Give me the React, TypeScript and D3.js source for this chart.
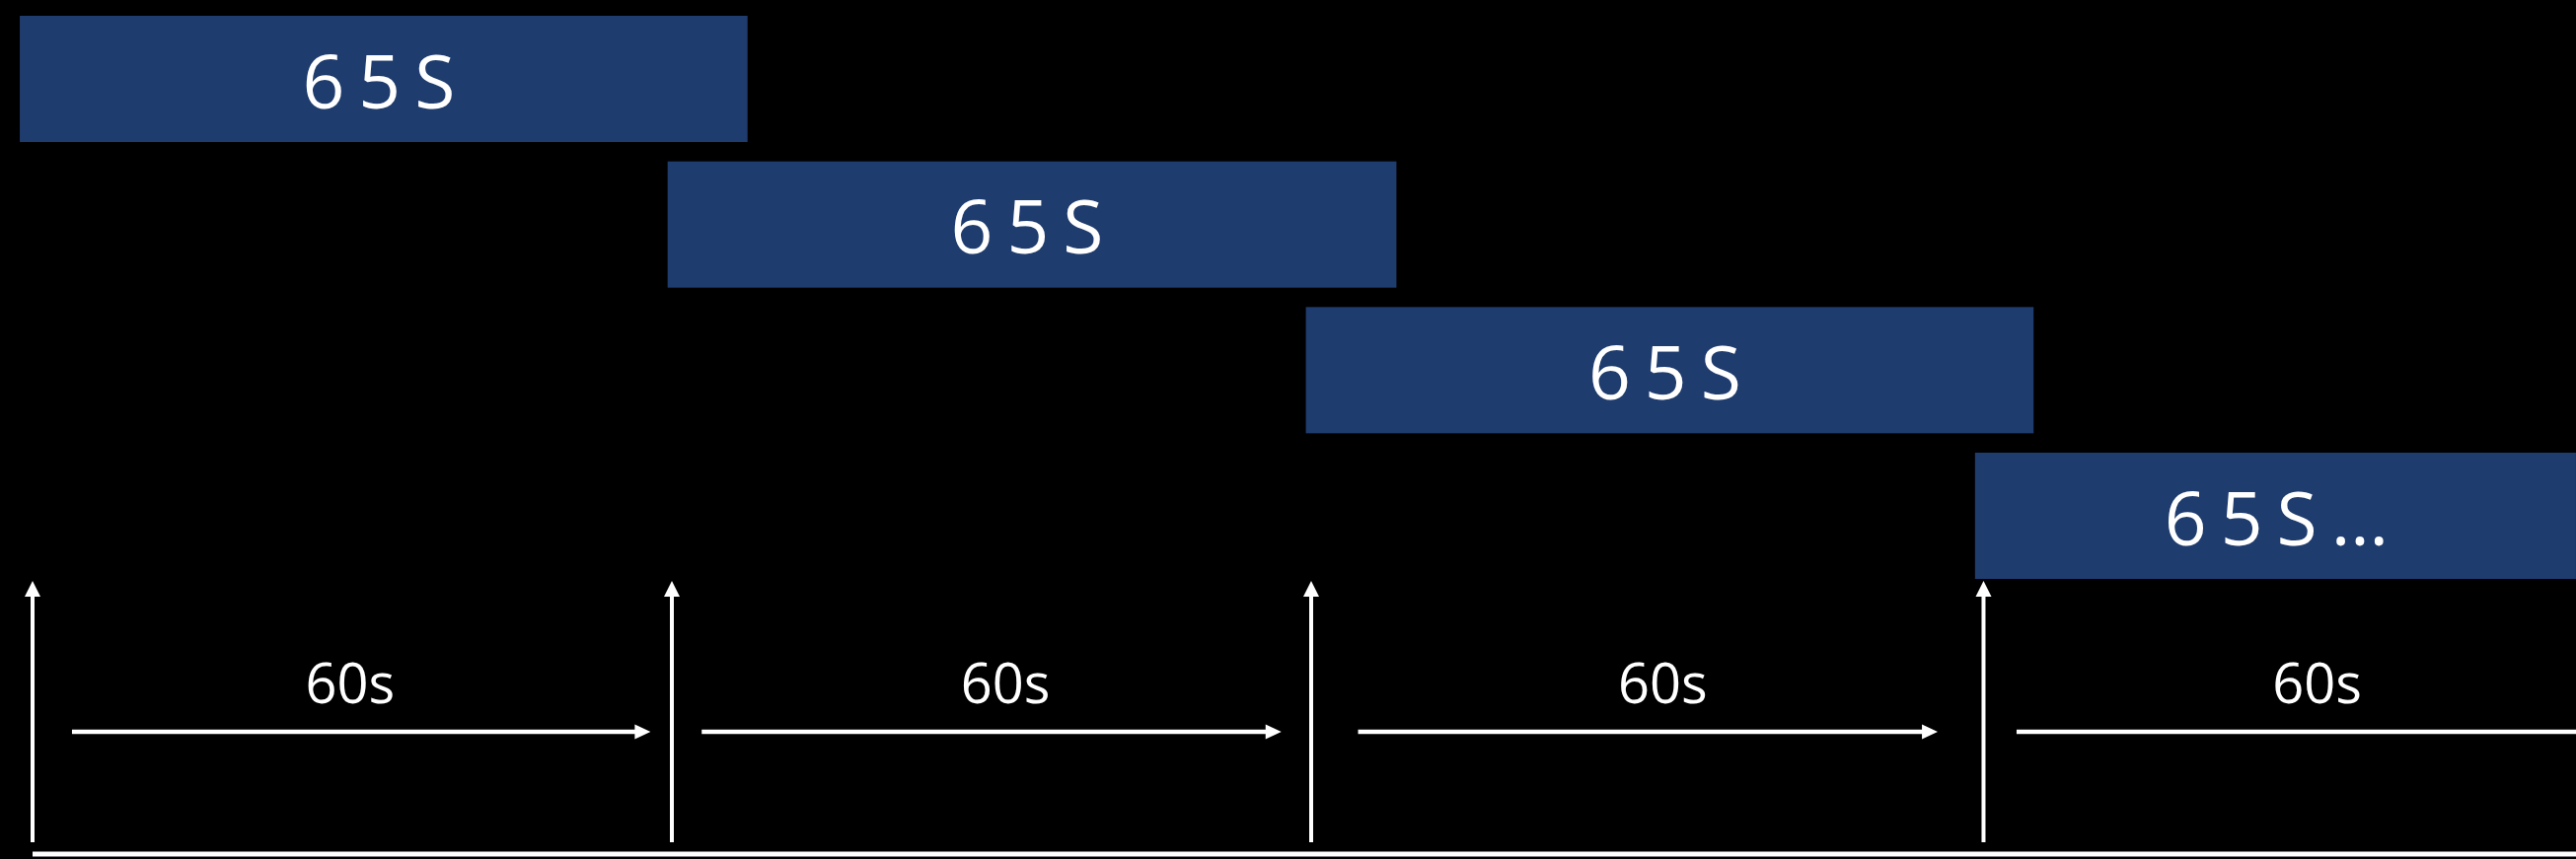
import React from "react";
import * as d3 from "d3";

// Time axis in seconds
const windowStart = [-1.2, 59.6, 119.5, 182.3];
const windowEnd = [67.1, 128.0, 187.8, 238.7];
const windowLabels = ["65S", "65S", "65S", "65S…"];
const tickTimes = [0, 60, 120, 183.1];
const intervalStart = [3.7, 62.8, 124.4, 186.2];
const intervalEnd = [58.0, 117.2, 178.8, 245];
const intervalLabelPos = [29.8, 91.3, 153.0, 214.4];
const intervalLabels = ["60s", "60s", "60s", "60s"];
const rows = [0, 1, 2, 3];

const W = 2611;
const H = 871;
const BAR = "#1f3c6e";
const FG = "#ffffff";
const FONT = "'Open Sans', 'Noto Sans', sans-serif";

export default function App() {
  const x = d3.scaleLinear().domain([0, 240]).range([33, 33 + 240 * 10.8]);
  const rowY = d3.scaleLinear().domain([0, 3]).range([16, 459]);
  const barH = 128;
  const baseY = 866;
  const vTop = 589;
  const vBottom = 854;
  const hY = 742;
  const head = 16;

  return (
    <div style={{ position: "fixed", left: 0, top: 0, width: W, height: H, background: "#000" }}>
      <svg width={W} height={H} style={{ display: "block" }}>
        <rect x={0} y={0} width={W} height={H} fill="#000" />
        {rows.map((i) => {
          const x0 = x(windowStart[i]);
          const x1 = x(windowEnd[i]);
          const y0 = rowY(i);
          return (
            <g key={"w" + i}>
              <rect x={x0} y={y0} width={x1 - x0} height={barH} fill={BAR} />
              <text
                x={(x0 + x1) / 2 + (i === 3 ? 8 : 2)}
                y={y0 + 93.5}
                fill={FG}
                fontFamily={FONT}
                fontSize={75}
                letterSpacing={14}
                textAnchor="middle"
              >
                {windowLabels[i]}
              </text>
            </g>
          );
        })}
        {tickTimes.map((t, i) => {
          const cx = x(t);
          return (
            <g key={"v" + i}>
              <line x1={cx} x2={cx} y1={vBottom} y2={vTop + head - 1} stroke={FG} strokeWidth={4} />
              <path d={`M${cx},${vTop} L${cx - 8},${vTop + head} L${cx + 8},${vTop + head} Z`} fill={FG} />
            </g>
          );
        })}
        {rows.map((i) => {
          const a = x(intervalStart[i]);
          const b = x(intervalEnd[i]);
          return (
            <g key={"h" + i}>
              <line x1={a} x2={b - head + 1} y1={hY} y2={hY} stroke={FG} strokeWidth={4.5} />
              <path d={`M${b},${hY} L${b - head},${hY - 7.5} L${b - head},${hY + 7.5} Z`} fill={FG} />
              <text
                x={x(intervalLabelPos[i])}
                y={713}
                fill={FG}
                fontFamily={FONT}
                fontSize={56}
                textAnchor="middle"
              >
                {intervalLabels[i]}
              </text>
            </g>
          );
        })}
        <line x1={x(0)} x2={W} y1={baseY} y2={baseY} stroke={FG} strokeWidth={5} />
      </svg>
    </div>
  );
}
